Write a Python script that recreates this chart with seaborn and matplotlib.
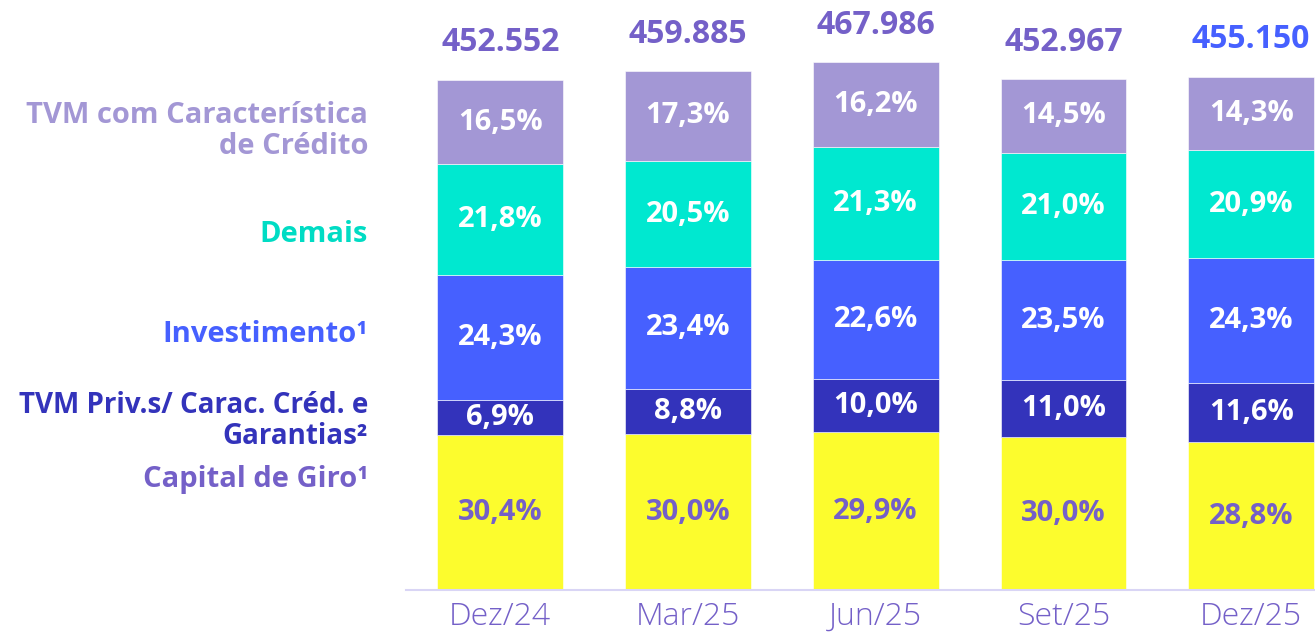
import pandas as pd
import matplotlib.pyplot as plt
import seaborn as sns

# Data
categories = ['Dez/24', 'Mar/25', 'Jun/25', 'Set/25', 'Dez/25']
totals = [452552, 459885, 467986, 452967, 455150]
capital_giro = [30.4, 30.0, 29.9, 30.0, 28.8]
tvm_priv = [6.9, 8.8, 10.0, 11.0, 11.6]
investimento = [24.3, 23.4, 22.6, 23.5, 24.3]
demais = [21.8, 20.5, 21.3, 21.0, 20.9]
tvm_credito = [16.5, 17.3, 16.2, 14.5, 14.3]

series_names = ['Capital de Giro¹', 'TVM Priv.s/ Carac. Créd. e\nGarantias²',
                'Investimento¹', 'Demais', 'TVM com Característica\nde Crédito']
series_pcts = [capital_giro, tvm_priv, investimento, demais, tvm_credito]
bar_colors = ['#FCFC2D', '#3333BB', '#4660FF', '#00E8D0', '#A397D5']
label_colors = ['#7460C8', '#3333BB', '#4660FF', '#00DCC4', '#A397D5']
pct_text_colors = ['#7460C8', 'white', 'white', 'white', 'white']

sns.set_style('white')
plt.rcParams['font.family'] = ['Open Sans', 'DejaVu Sans']

fig = plt.figure(figsize=(13.15, 6.32), dpi=100)
ax = fig.add_axes([0.309, 0.0665, 0.691, 0.9335])

bottoms = [0.0] * len(categories)
for name, pcts, col, tcol in zip(series_names, series_pcts, bar_colors, pct_text_colors):
    heights = [t * p / 100 for t, p in zip(totals, pcts)]
    df = pd.DataFrame({'cat': categories, 'val': heights})
    sns.barplot(data=df, x='cat', y='val', order=categories, color=col,
                bottom=bottoms, width=0.67, errorbar=None, ax=ax,
                edgecolor='white', linewidth=0.4, saturation=1)
    for i, (h, b, p) in enumerate(zip(heights, bottoms, pcts)):
        ax.text(i, b + h / 2, f'{p:.1f}%'.replace('.', ','), ha='center', va='center',
                color=tcol, fontsize=21, fontweight='bold')
    bottoms = [b + h for b, h in zip(bottoms, heights)]

# Totals above the bars
for i, t in enumerate(totals):
    col = '#4660FF' if i == len(totals) - 1 else '#7460C8'
    ax.text(i, t + 18000, f'{t:,}'.replace(',', '.'), ha='center', va='bottom',
            color=col, fontsize=23, fontweight='bold')

ax.set_xlim(-0.5, 4.34)
ax.set_ylim(0, 522900)
ax.set_xlabel('')
ax.set_ylabel('')
ax.set_yticks([])
for s in ['top', 'right', 'left']:
    ax.spines[s].set_visible(False)
ax.spines['bottom'].set_color('#D9D5F5')
ax.spines['bottom'].set_linewidth(1.5)
ax.tick_params(axis='x', length=0, pad=8, labelsize=23, labelcolor='#7460C8')
for lbl in ax.get_xticklabels():
    lbl.set_fontweight('light')

# Series labels on the left
label_y = [480, 421, 334, 234, 131]
label_size = [21, 20, 21, 21, 21]
for name, col, y, fs in zip(series_names, label_colors, label_y, label_size):
    fig.text(0.28, 1 - y / 632, name, ha='right', va='center', color=col,
             fontsize=fs, fontweight='bold', linespacing=1.05, multialignment='right')

plt.savefig('out.png', dpi=100)
